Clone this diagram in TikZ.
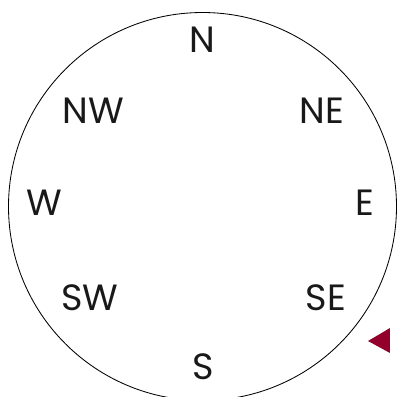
\documentclass[tikz,border=0pt]{standalone}
\usepackage{fontspec}
\setmainfont{Poppins}
\usepackage{xcolor}
\usepackage{tikz}
\definecolor{pointerred}{HTML}{93002C}

\begin{document}
\begin{tikzpicture}[
  x=0.025cm, y=-0.025cm,
  dirlabel/.style={inner sep=0pt, font=\fontsize{26}{26}\selectfont, text=black!90},
]
\useasboundingbox (0,0) rectangle (397,397);

% Dial
\begin{scope}
  \clip (0,0) rectangle (397,397);
  \draw[line width=0.6pt] (202.5,206.5) circle[radius=194];
\end{scope}

% Compass points
\node[dirlabel] (n)  at (202,40)  {N};
\node[dirlabel] (nw) at (93,111)  {NW};
\node[dirlabel] (ne) at (322,111) {NE};
\node[dirlabel] (w)  at (44,203)  {W};
\node[dirlabel] (e)  at (365,203) {E};
\node[dirlabel] (sw) at (90,298)  {SW};
\node[dirlabel] (se) at (326,298) {SE};
\node[dirlabel] (s)  at (203,367) {S};

% Pointer
\fill[pointerred] (368,341) -- (390,328) -- (390,353) -- cycle;

\end{tikzpicture}
\end{document}
